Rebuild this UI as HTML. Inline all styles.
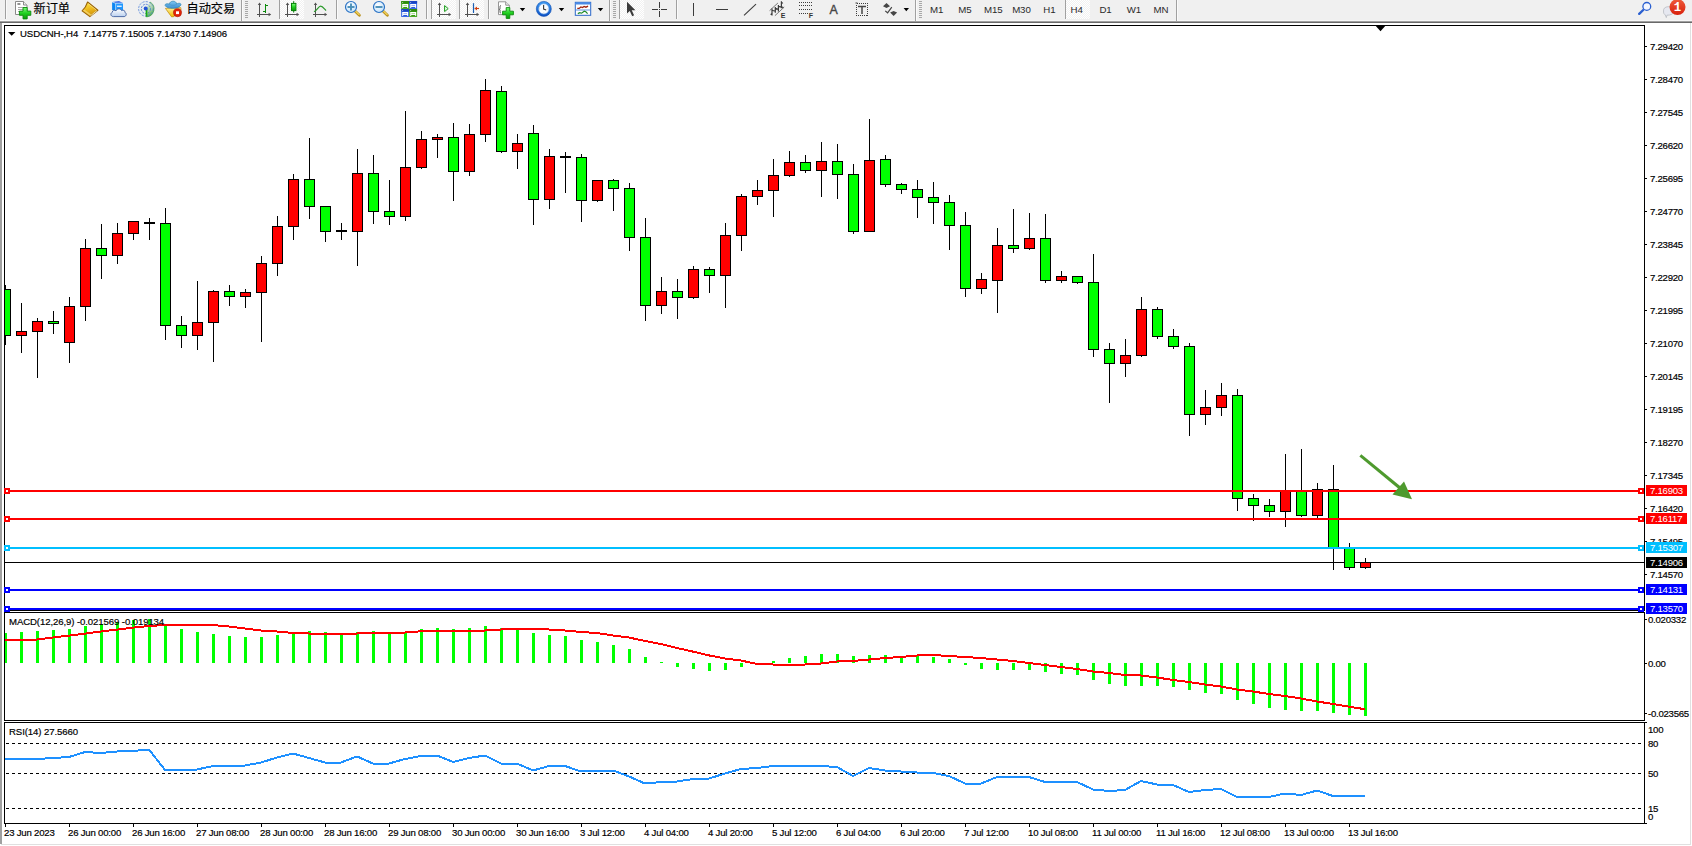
<!DOCTYPE html>
<html lang="zh"><head><meta charset="utf-8"><title>USDCNH-,H4</title>
<style>
html,body{margin:0;padding:0;background:#fff;}
body{width:1692px;height:846px;overflow:hidden;position:relative;font-family:"Liberation Sans", "Noto Sans CJK SC", sans-serif;}
svg{position:absolute;left:0;top:0;display:block}
text{font-family:"Liberation Sans", "Noto Sans CJK SC", sans-serif;}
.ax{font-size:9.6px;letter-spacing:-0.25px;fill:#000;stroke:#000;stroke-width:.18px}
.lb{font-size:9.6px;letter-spacing:-0.25px;fill:#fff}
.dt{font-size:9.6px;letter-spacing:-0.2px;fill:#000;stroke:#000;stroke-width:.18px}
.tt{font-size:9.6px;letter-spacing:-0.1px;fill:#000;stroke:#000;stroke-width:.18px}
.tf{font-size:9.7px;fill:#2a2a2a;letter-spacing:-0.1px}
.cn{font-size:12.2px;fill:#000;stroke:#000;stroke-width:.15px}
</style></head><body>
<svg width="1692" height="846" viewBox="0 0 1692 846">

<rect x="0" y="0" width="1692" height="846" fill="#fff"/>
<g shape-rendering="crispEdges">
<rect x="0" y="0" width="1692" height="21" fill="#f0f0f0"/>
<rect x="0" y="20" width="1692" height="1" fill="#f7f7f7"/>
<rect x="0" y="21" width="1692" height="1" fill="#a0a0a0"/>
<rect x="0" y="22" width="1692" height="1" fill="#696969"/>
<rect x="0" y="23" width="1692" height="2" fill="#fff"/>
<rect x="0" y="23" width="2" height="821" fill="#a0a0a0"/>
<rect x="1690" y="23" width="1" height="822" fill="#e0e0e0"/>
<rect x="1" y="844" width="1690" height="1" fill="#e0e0e0"/>
<g fill="#000">
<rect x="4" y="25" width="1641" height="1"/>
<rect x="4" y="25" width="1" height="799"/>
<rect x="1644" y="25" width="1" height="799"/>
<rect x="4" y="610" width="1641" height="1"/>
<rect x="4" y="612" width="1641" height="1"/>
<rect x="4" y="720" width="1641" height="1"/>
<rect x="4" y="722" width="1641" height="1"/>
<rect x="4" y="823" width="1643" height="1"/>
<rect x="1645" y="722" width="2" height="1"/>
</g>
<rect x="4" y="611" width="1641" height="1" fill="#fff"/><rect x="4" y="721" width="1641" height="1" fill="#fff"/>
<rect x="1645" y="46" width="2" height="1" fill="#000"/>
<rect x="1645" y="79" width="2" height="1" fill="#000"/>
<rect x="1645" y="112" width="2" height="1" fill="#000"/>
<rect x="1645" y="145" width="2" height="1" fill="#000"/>
<rect x="1645" y="178" width="2" height="1" fill="#000"/>
<rect x="1645" y="211" width="2" height="1" fill="#000"/>
<rect x="1645" y="244" width="2" height="1" fill="#000"/>
<rect x="1645" y="277" width="2" height="1" fill="#000"/>
<rect x="1645" y="310" width="2" height="1" fill="#000"/>
<rect x="1645" y="343" width="2" height="1" fill="#000"/>
<rect x="1645" y="376" width="2" height="1" fill="#000"/>
<rect x="1645" y="409" width="2" height="1" fill="#000"/>
<rect x="1645" y="442" width="2" height="1" fill="#000"/>
<rect x="1645" y="475" width="2" height="1" fill="#000"/>
<rect x="1645" y="508" width="2" height="1" fill="#000"/>
<rect x="1645" y="541" width="2" height="1" fill="#000"/>
<rect x="1645" y="574" width="2" height="1" fill="#000"/>
<rect x="1645" y="619" width="2" height="1" fill="#000"/>
<rect x="1645" y="663" width="2" height="1" fill="#000"/>
<rect x="1645" y="713" width="2" height="1" fill="#000"/>
<rect x="5" y="824" width="1" height="3" fill="#000"/>
<rect x="69" y="824" width="1" height="3" fill="#000"/>
<rect x="133" y="824" width="1" height="3" fill="#000"/>
<rect x="197" y="824" width="1" height="3" fill="#000"/>
<rect x="261" y="824" width="1" height="3" fill="#000"/>
<rect x="325" y="824" width="1" height="3" fill="#000"/>
<rect x="389" y="824" width="1" height="3" fill="#000"/>
<rect x="453" y="824" width="1" height="3" fill="#000"/>
<rect x="517" y="824" width="1" height="3" fill="#000"/>
<rect x="581" y="824" width="1" height="3" fill="#000"/>
<rect x="645" y="824" width="1" height="3" fill="#000"/>
<rect x="709" y="824" width="1" height="3" fill="#000"/>
<rect x="773" y="824" width="1" height="3" fill="#000"/>
<rect x="837" y="824" width="1" height="3" fill="#000"/>
<rect x="901" y="824" width="1" height="3" fill="#000"/>
<rect x="965" y="824" width="1" height="3" fill="#000"/>
<rect x="1029" y="824" width="1" height="3" fill="#000"/>
<rect x="1093" y="824" width="1" height="3" fill="#000"/>
<rect x="1157" y="824" width="1" height="3" fill="#000"/>
<rect x="1221" y="824" width="1" height="3" fill="#000"/>
<rect x="1285" y="824" width="1" height="3" fill="#000"/>
<rect x="1349" y="824" width="1" height="3" fill="#000"/>
<rect x="5" y="562" width="1639" height="1" fill="#000"/>
<rect x="5" y="285" width="1" height="60" fill="#000"/>
<rect x="5" y="289" width="6" height="47" fill="#000"/>
<rect x="5" y="290" width="5" height="45" fill="#00ff00"/>
<rect x="21" y="303" width="1" height="50" fill="#000"/>
<rect x="16" y="331" width="11" height="5" fill="#000"/>
<rect x="17" y="332" width="9" height="3" fill="#ff0000"/>
<rect x="37" y="318" width="1" height="60" fill="#000"/>
<rect x="32" y="321" width="11" height="11" fill="#000"/>
<rect x="33" y="322" width="9" height="9" fill="#ff0000"/>
<rect x="53" y="311" width="1" height="23" fill="#000"/>
<rect x="48" y="321" width="11" height="3" fill="#000"/>
<rect x="49" y="322" width="9" height="1" fill="#00ff00"/>
<rect x="69" y="297" width="1" height="66" fill="#000"/>
<rect x="64" y="306" width="11" height="37" fill="#000"/>
<rect x="65" y="307" width="9" height="35" fill="#ff0000"/>
<rect x="85" y="239" width="1" height="82" fill="#000"/>
<rect x="80" y="248" width="11" height="59" fill="#000"/>
<rect x="81" y="249" width="9" height="57" fill="#ff0000"/>
<rect x="101" y="224" width="1" height="55" fill="#000"/>
<rect x="96" y="248" width="11" height="8" fill="#000"/>
<rect x="97" y="249" width="9" height="6" fill="#00ff00"/>
<rect x="117" y="223" width="1" height="41" fill="#000"/>
<rect x="112" y="233" width="11" height="23" fill="#000"/>
<rect x="113" y="234" width="9" height="21" fill="#ff0000"/>
<rect x="133" y="221" width="1" height="19" fill="#000"/>
<rect x="128" y="221" width="11" height="13" fill="#000"/>
<rect x="129" y="222" width="9" height="11" fill="#ff0000"/>
<rect x="149" y="218" width="1" height="22" fill="#000"/>
<rect x="144" y="222" width="11" height="2" fill="#000"/>
<rect x="165" y="208" width="1" height="132" fill="#000"/>
<rect x="160" y="223" width="11" height="103" fill="#000"/>
<rect x="161" y="224" width="9" height="101" fill="#00ff00"/>
<rect x="181" y="316" width="1" height="32" fill="#000"/>
<rect x="176" y="325" width="11" height="11" fill="#000"/>
<rect x="177" y="326" width="9" height="9" fill="#00ff00"/>
<rect x="197" y="281" width="1" height="69" fill="#000"/>
<rect x="192" y="322" width="11" height="14" fill="#000"/>
<rect x="193" y="323" width="9" height="12" fill="#ff0000"/>
<rect x="213" y="290" width="1" height="72" fill="#000"/>
<rect x="208" y="291" width="11" height="32" fill="#000"/>
<rect x="209" y="292" width="9" height="30" fill="#ff0000"/>
<rect x="229" y="285" width="1" height="21" fill="#000"/>
<rect x="224" y="291" width="11" height="6" fill="#000"/>
<rect x="225" y="292" width="9" height="4" fill="#00ff00"/>
<rect x="245" y="289" width="1" height="19" fill="#000"/>
<rect x="240" y="292" width="11" height="5" fill="#000"/>
<rect x="241" y="293" width="9" height="3" fill="#ff0000"/>
<rect x="261" y="256" width="1" height="86" fill="#000"/>
<rect x="256" y="263" width="11" height="30" fill="#000"/>
<rect x="257" y="264" width="9" height="28" fill="#ff0000"/>
<rect x="277" y="216" width="1" height="60" fill="#000"/>
<rect x="272" y="226" width="11" height="38" fill="#000"/>
<rect x="273" y="227" width="9" height="36" fill="#ff0000"/>
<rect x="293" y="174" width="1" height="66" fill="#000"/>
<rect x="288" y="179" width="11" height="48" fill="#000"/>
<rect x="289" y="180" width="9" height="46" fill="#ff0000"/>
<rect x="309" y="138" width="1" height="81" fill="#000"/>
<rect x="304" y="179" width="11" height="28" fill="#000"/>
<rect x="305" y="180" width="9" height="26" fill="#00ff00"/>
<rect x="325" y="206" width="1" height="36" fill="#000"/>
<rect x="320" y="206" width="11" height="26" fill="#000"/>
<rect x="321" y="207" width="9" height="24" fill="#00ff00"/>
<rect x="341" y="223" width="1" height="17" fill="#000"/>
<rect x="336" y="230" width="11" height="2" fill="#000"/>
<rect x="357" y="149" width="1" height="117" fill="#000"/>
<rect x="352" y="173" width="11" height="59" fill="#000"/>
<rect x="353" y="174" width="9" height="57" fill="#ff0000"/>
<rect x="373" y="155" width="1" height="69" fill="#000"/>
<rect x="368" y="173" width="11" height="39" fill="#000"/>
<rect x="369" y="174" width="9" height="37" fill="#00ff00"/>
<rect x="389" y="180" width="1" height="45" fill="#000"/>
<rect x="384" y="211" width="11" height="6" fill="#000"/>
<rect x="385" y="212" width="9" height="4" fill="#00ff00"/>
<rect x="405" y="111" width="1" height="110" fill="#000"/>
<rect x="400" y="167" width="11" height="50" fill="#000"/>
<rect x="401" y="168" width="9" height="48" fill="#ff0000"/>
<rect x="421" y="131" width="1" height="38" fill="#000"/>
<rect x="416" y="139" width="11" height="29" fill="#000"/>
<rect x="417" y="140" width="9" height="27" fill="#ff0000"/>
<rect x="437" y="134" width="1" height="24" fill="#000"/>
<rect x="432" y="137" width="11" height="3" fill="#000"/>
<rect x="433" y="138" width="9" height="1" fill="#ff0000"/>
<rect x="453" y="123" width="1" height="78" fill="#000"/>
<rect x="448" y="137" width="11" height="35" fill="#000"/>
<rect x="449" y="138" width="9" height="33" fill="#00ff00"/>
<rect x="469" y="124" width="1" height="52" fill="#000"/>
<rect x="464" y="134" width="11" height="38" fill="#000"/>
<rect x="465" y="135" width="9" height="36" fill="#ff0000"/>
<rect x="485" y="79" width="1" height="63" fill="#000"/>
<rect x="480" y="90" width="11" height="45" fill="#000"/>
<rect x="481" y="91" width="9" height="43" fill="#ff0000"/>
<rect x="501" y="86" width="1" height="67" fill="#000"/>
<rect x="496" y="91" width="11" height="61" fill="#000"/>
<rect x="497" y="92" width="9" height="59" fill="#00ff00"/>
<rect x="517" y="134" width="1" height="35" fill="#000"/>
<rect x="512" y="143" width="11" height="9" fill="#000"/>
<rect x="513" y="144" width="9" height="7" fill="#ff0000"/>
<rect x="533" y="125" width="1" height="100" fill="#000"/>
<rect x="528" y="133" width="11" height="67" fill="#000"/>
<rect x="529" y="134" width="9" height="65" fill="#00ff00"/>
<rect x="549" y="149" width="1" height="60" fill="#000"/>
<rect x="544" y="156" width="11" height="44" fill="#000"/>
<rect x="545" y="157" width="9" height="42" fill="#ff0000"/>
<rect x="565" y="152" width="1" height="41" fill="#000"/>
<rect x="560" y="156" width="11" height="2" fill="#000"/>
<rect x="581" y="154" width="1" height="68" fill="#000"/>
<rect x="576" y="157" width="11" height="44" fill="#000"/>
<rect x="577" y="158" width="9" height="42" fill="#00ff00"/>
<rect x="597" y="180" width="1" height="22" fill="#000"/>
<rect x="592" y="180" width="11" height="21" fill="#000"/>
<rect x="593" y="181" width="9" height="19" fill="#ff0000"/>
<rect x="613" y="179" width="1" height="32" fill="#000"/>
<rect x="608" y="180" width="11" height="9" fill="#000"/>
<rect x="609" y="181" width="9" height="7" fill="#00ff00"/>
<rect x="629" y="183" width="1" height="68" fill="#000"/>
<rect x="624" y="188" width="11" height="50" fill="#000"/>
<rect x="625" y="189" width="9" height="48" fill="#00ff00"/>
<rect x="645" y="218" width="1" height="103" fill="#000"/>
<rect x="640" y="237" width="11" height="69" fill="#000"/>
<rect x="641" y="238" width="9" height="67" fill="#00ff00"/>
<rect x="661" y="277" width="1" height="37" fill="#000"/>
<rect x="656" y="291" width="11" height="15" fill="#000"/>
<rect x="657" y="292" width="9" height="13" fill="#ff0000"/>
<rect x="677" y="279" width="1" height="40" fill="#000"/>
<rect x="672" y="291" width="11" height="7" fill="#000"/>
<rect x="673" y="292" width="9" height="5" fill="#00ff00"/>
<rect x="693" y="266" width="1" height="33" fill="#000"/>
<rect x="688" y="269" width="11" height="29" fill="#000"/>
<rect x="689" y="270" width="9" height="27" fill="#ff0000"/>
<rect x="709" y="267" width="1" height="26" fill="#000"/>
<rect x="704" y="269" width="11" height="7" fill="#000"/>
<rect x="705" y="270" width="9" height="5" fill="#00ff00"/>
<rect x="725" y="223" width="1" height="85" fill="#000"/>
<rect x="720" y="235" width="11" height="41" fill="#000"/>
<rect x="721" y="236" width="9" height="39" fill="#ff0000"/>
<rect x="741" y="194" width="1" height="57" fill="#000"/>
<rect x="736" y="196" width="11" height="40" fill="#000"/>
<rect x="737" y="197" width="9" height="38" fill="#ff0000"/>
<rect x="757" y="180" width="1" height="25" fill="#000"/>
<rect x="752" y="190" width="11" height="7" fill="#000"/>
<rect x="753" y="191" width="9" height="5" fill="#ff0000"/>
<rect x="773" y="159" width="1" height="58" fill="#000"/>
<rect x="768" y="175" width="11" height="16" fill="#000"/>
<rect x="769" y="176" width="9" height="14" fill="#ff0000"/>
<rect x="789" y="151" width="1" height="26" fill="#000"/>
<rect x="784" y="162" width="11" height="14" fill="#000"/>
<rect x="785" y="163" width="9" height="12" fill="#ff0000"/>
<rect x="805" y="155" width="1" height="18" fill="#000"/>
<rect x="800" y="162" width="11" height="9" fill="#000"/>
<rect x="801" y="163" width="9" height="7" fill="#00ff00"/>
<rect x="821" y="142" width="1" height="55" fill="#000"/>
<rect x="816" y="161" width="11" height="10" fill="#000"/>
<rect x="817" y="162" width="9" height="8" fill="#ff0000"/>
<rect x="837" y="144" width="1" height="55" fill="#000"/>
<rect x="832" y="161" width="11" height="14" fill="#000"/>
<rect x="833" y="162" width="9" height="12" fill="#00ff00"/>
<rect x="853" y="164" width="1" height="70" fill="#000"/>
<rect x="848" y="174" width="11" height="58" fill="#000"/>
<rect x="849" y="175" width="9" height="56" fill="#00ff00"/>
<rect x="869" y="119" width="1" height="113" fill="#000"/>
<rect x="864" y="160" width="11" height="72" fill="#000"/>
<rect x="865" y="161" width="9" height="70" fill="#ff0000"/>
<rect x="885" y="155" width="1" height="32" fill="#000"/>
<rect x="880" y="159" width="11" height="26" fill="#000"/>
<rect x="881" y="160" width="9" height="24" fill="#00ff00"/>
<rect x="901" y="183" width="1" height="11" fill="#000"/>
<rect x="896" y="184" width="11" height="6" fill="#000"/>
<rect x="897" y="185" width="9" height="4" fill="#00ff00"/>
<rect x="917" y="180" width="1" height="38" fill="#000"/>
<rect x="912" y="189" width="11" height="9" fill="#000"/>
<rect x="913" y="190" width="9" height="7" fill="#00ff00"/>
<rect x="933" y="182" width="1" height="42" fill="#000"/>
<rect x="928" y="197" width="11" height="6" fill="#000"/>
<rect x="929" y="198" width="9" height="4" fill="#00ff00"/>
<rect x="949" y="195" width="1" height="55" fill="#000"/>
<rect x="944" y="202" width="11" height="24" fill="#000"/>
<rect x="945" y="203" width="9" height="22" fill="#00ff00"/>
<rect x="965" y="212" width="1" height="85" fill="#000"/>
<rect x="960" y="225" width="11" height="64" fill="#000"/>
<rect x="961" y="226" width="9" height="62" fill="#00ff00"/>
<rect x="981" y="273" width="1" height="21" fill="#000"/>
<rect x="976" y="279" width="11" height="10" fill="#000"/>
<rect x="977" y="280" width="9" height="8" fill="#ff0000"/>
<rect x="997" y="228" width="1" height="85" fill="#000"/>
<rect x="992" y="245" width="11" height="36" fill="#000"/>
<rect x="993" y="246" width="9" height="34" fill="#ff0000"/>
<rect x="1013" y="209" width="1" height="44" fill="#000"/>
<rect x="1008" y="245" width="11" height="4" fill="#000"/>
<rect x="1009" y="246" width="9" height="2" fill="#00ff00"/>
<rect x="1029" y="213" width="1" height="37" fill="#000"/>
<rect x="1024" y="238" width="11" height="11" fill="#000"/>
<rect x="1025" y="239" width="9" height="9" fill="#ff0000"/>
<rect x="1045" y="214" width="1" height="69" fill="#000"/>
<rect x="1040" y="238" width="11" height="43" fill="#000"/>
<rect x="1041" y="239" width="9" height="41" fill="#00ff00"/>
<rect x="1061" y="271" width="1" height="12" fill="#000"/>
<rect x="1056" y="276" width="11" height="5" fill="#000"/>
<rect x="1057" y="277" width="9" height="3" fill="#ff0000"/>
<rect x="1077" y="276" width="1" height="8" fill="#000"/>
<rect x="1072" y="276" width="11" height="7" fill="#000"/>
<rect x="1073" y="277" width="9" height="5" fill="#00ff00"/>
<rect x="1093" y="254" width="1" height="103" fill="#000"/>
<rect x="1088" y="282" width="11" height="68" fill="#000"/>
<rect x="1089" y="283" width="9" height="66" fill="#00ff00"/>
<rect x="1109" y="343" width="1" height="60" fill="#000"/>
<rect x="1104" y="349" width="11" height="15" fill="#000"/>
<rect x="1105" y="350" width="9" height="13" fill="#00ff00"/>
<rect x="1125" y="339" width="1" height="38" fill="#000"/>
<rect x="1120" y="355" width="11" height="9" fill="#000"/>
<rect x="1121" y="356" width="9" height="7" fill="#ff0000"/>
<rect x="1141" y="297" width="1" height="60" fill="#000"/>
<rect x="1136" y="309" width="11" height="47" fill="#000"/>
<rect x="1137" y="310" width="9" height="45" fill="#ff0000"/>
<rect x="1157" y="307" width="1" height="32" fill="#000"/>
<rect x="1152" y="309" width="11" height="28" fill="#000"/>
<rect x="1153" y="310" width="9" height="26" fill="#00ff00"/>
<rect x="1173" y="329" width="1" height="20" fill="#000"/>
<rect x="1168" y="336" width="11" height="11" fill="#000"/>
<rect x="1169" y="337" width="9" height="9" fill="#00ff00"/>
<rect x="1189" y="343" width="1" height="93" fill="#000"/>
<rect x="1184" y="346" width="11" height="69" fill="#000"/>
<rect x="1185" y="347" width="9" height="67" fill="#00ff00"/>
<rect x="1205" y="390" width="1" height="35" fill="#000"/>
<rect x="1200" y="407" width="11" height="8" fill="#000"/>
<rect x="1201" y="408" width="9" height="6" fill="#ff0000"/>
<rect x="1221" y="383" width="1" height="33" fill="#000"/>
<rect x="1216" y="395" width="11" height="13" fill="#000"/>
<rect x="1217" y="396" width="9" height="11" fill="#ff0000"/>
<rect x="1237" y="389" width="1" height="122" fill="#000"/>
<rect x="1232" y="395" width="11" height="104" fill="#000"/>
<rect x="1233" y="396" width="9" height="102" fill="#00ff00"/>
<rect x="1253" y="494" width="1" height="27" fill="#000"/>
<rect x="1248" y="498" width="11" height="8" fill="#000"/>
<rect x="1249" y="499" width="9" height="6" fill="#00ff00"/>
<rect x="1269" y="499" width="1" height="18" fill="#000"/>
<rect x="1264" y="505" width="11" height="7" fill="#000"/>
<rect x="1265" y="506" width="9" height="5" fill="#00ff00"/>
<rect x="1285" y="454" width="1" height="73" fill="#000"/>
<rect x="1280" y="491" width="11" height="21" fill="#000"/>
<rect x="1281" y="492" width="9" height="19" fill="#ff0000"/>
<rect x="1301" y="449" width="1" height="68" fill="#000"/>
<rect x="1296" y="491" width="11" height="25" fill="#000"/>
<rect x="1297" y="492" width="9" height="23" fill="#00ff00"/>
<rect x="1317" y="483" width="1" height="35" fill="#000"/>
<rect x="1312" y="489" width="11" height="27" fill="#000"/>
<rect x="1313" y="490" width="9" height="25" fill="#ff0000"/>
<rect x="1333" y="465" width="1" height="105" fill="#000"/>
<rect x="1328" y="489" width="11" height="59" fill="#000"/>
<rect x="1329" y="490" width="9" height="57" fill="#00ff00"/>
<rect x="1349" y="543" width="1" height="27" fill="#000"/>
<rect x="1344" y="547" width="11" height="21" fill="#000"/>
<rect x="1345" y="548" width="9" height="19" fill="#00ff00"/>
<rect x="1365" y="558" width="1" height="11" fill="#000"/>
<rect x="1360" y="562" width="11" height="6" fill="#000"/>
<rect x="1361" y="563" width="9" height="4" fill="#ff0000"/>
<rect x="5" y="633" width="2" height="30" fill="#00ff00"/>
<rect x="20" y="632" width="3" height="31" fill="#00ff00"/>
<rect x="36" y="631" width="3" height="32" fill="#00ff00"/>
<rect x="52" y="630" width="3" height="33" fill="#00ff00"/>
<rect x="68" y="629" width="3" height="34" fill="#00ff00"/>
<rect x="84" y="626" width="3" height="37" fill="#00ff00"/>
<rect x="100" y="624" width="3" height="39" fill="#00ff00"/>
<rect x="116" y="622" width="3" height="41" fill="#00ff00"/>
<rect x="132" y="620" width="3" height="43" fill="#00ff00"/>
<rect x="148" y="619" width="3" height="44" fill="#00ff00"/>
<rect x="164" y="626" width="3" height="37" fill="#00ff00"/>
<rect x="180" y="629" width="3" height="34" fill="#00ff00"/>
<rect x="196" y="632" width="3" height="31" fill="#00ff00"/>
<rect x="212" y="634" width="3" height="29" fill="#00ff00"/>
<rect x="228" y="636" width="3" height="27" fill="#00ff00"/>
<rect x="244" y="637" width="3" height="26" fill="#00ff00"/>
<rect x="260" y="637" width="3" height="26" fill="#00ff00"/>
<rect x="276" y="635" width="3" height="28" fill="#00ff00"/>
<rect x="292" y="633" width="3" height="30" fill="#00ff00"/>
<rect x="308" y="631" width="3" height="32" fill="#00ff00"/>
<rect x="324" y="632" width="3" height="31" fill="#00ff00"/>
<rect x="340" y="633" width="3" height="30" fill="#00ff00"/>
<rect x="356" y="632" width="3" height="31" fill="#00ff00"/>
<rect x="372" y="631" width="3" height="32" fill="#00ff00"/>
<rect x="388" y="632" width="3" height="31" fill="#00ff00"/>
<rect x="404" y="632" width="3" height="31" fill="#00ff00"/>
<rect x="420" y="629" width="3" height="34" fill="#00ff00"/>
<rect x="436" y="628" width="3" height="35" fill="#00ff00"/>
<rect x="452" y="629" width="3" height="34" fill="#00ff00"/>
<rect x="468" y="628" width="3" height="35" fill="#00ff00"/>
<rect x="484" y="626" width="3" height="37" fill="#00ff00"/>
<rect x="500" y="628" width="3" height="35" fill="#00ff00"/>
<rect x="516" y="630" width="3" height="33" fill="#00ff00"/>
<rect x="532" y="633" width="3" height="30" fill="#00ff00"/>
<rect x="548" y="635" width="3" height="28" fill="#00ff00"/>
<rect x="564" y="636" width="3" height="27" fill="#00ff00"/>
<rect x="580" y="640" width="3" height="23" fill="#00ff00"/>
<rect x="596" y="642" width="3" height="21" fill="#00ff00"/>
<rect x="612" y="645" width="3" height="18" fill="#00ff00"/>
<rect x="628" y="649" width="3" height="14" fill="#00ff00"/>
<rect x="644" y="657" width="3" height="6" fill="#00ff00"/>
<rect x="660" y="662" width="3" height="1" fill="#00ff00"/>
<rect x="676" y="663" width="3" height="4" fill="#00ff00"/>
<rect x="692" y="663" width="3" height="6" fill="#00ff00"/>
<rect x="708" y="663" width="3" height="8" fill="#00ff00"/>
<rect x="724" y="663" width="3" height="7" fill="#00ff00"/>
<rect x="740" y="663" width="3" height="4" fill="#00ff00"/>
<rect x="756" y="663" width="3" height="1" fill="#00ff00"/>
<rect x="772" y="661" width="3" height="2" fill="#00ff00"/>
<rect x="788" y="658" width="3" height="5" fill="#00ff00"/>
<rect x="804" y="656" width="3" height="7" fill="#00ff00"/>
<rect x="820" y="654" width="3" height="9" fill="#00ff00"/>
<rect x="836" y="654" width="3" height="9" fill="#00ff00"/>
<rect x="852" y="656" width="3" height="7" fill="#00ff00"/>
<rect x="868" y="655" width="3" height="8" fill="#00ff00"/>
<rect x="884" y="655" width="3" height="8" fill="#00ff00"/>
<rect x="900" y="656" width="3" height="7" fill="#00ff00"/>
<rect x="916" y="656" width="3" height="7" fill="#00ff00"/>
<rect x="932" y="657" width="3" height="6" fill="#00ff00"/>
<rect x="948" y="659" width="3" height="4" fill="#00ff00"/>
<rect x="964" y="663" width="3" height="2" fill="#00ff00"/>
<rect x="980" y="663" width="3" height="6" fill="#00ff00"/>
<rect x="996" y="663" width="3" height="7" fill="#00ff00"/>
<rect x="1012" y="663" width="3" height="7" fill="#00ff00"/>
<rect x="1028" y="663" width="3" height="7" fill="#00ff00"/>
<rect x="1044" y="663" width="3" height="9" fill="#00ff00"/>
<rect x="1060" y="663" width="3" height="11" fill="#00ff00"/>
<rect x="1076" y="663" width="3" height="12" fill="#00ff00"/>
<rect x="1092" y="663" width="3" height="17" fill="#00ff00"/>
<rect x="1108" y="663" width="3" height="21" fill="#00ff00"/>
<rect x="1124" y="663" width="3" height="23" fill="#00ff00"/>
<rect x="1140" y="663" width="3" height="23" fill="#00ff00"/>
<rect x="1156" y="663" width="3" height="23" fill="#00ff00"/>
<rect x="1172" y="663" width="3" height="24" fill="#00ff00"/>
<rect x="1188" y="663" width="3" height="27" fill="#00ff00"/>
<rect x="1204" y="663" width="3" height="30" fill="#00ff00"/>
<rect x="1220" y="663" width="3" height="31" fill="#00ff00"/>
<rect x="1236" y="663" width="3" height="37" fill="#00ff00"/>
<rect x="1252" y="663" width="3" height="41" fill="#00ff00"/>
<rect x="1268" y="663" width="3" height="45" fill="#00ff00"/>
<rect x="1284" y="663" width="3" height="47" fill="#00ff00"/>
<rect x="1300" y="663" width="3" height="48" fill="#00ff00"/>
<rect x="1316" y="663" width="3" height="48" fill="#00ff00"/>
<rect x="1332" y="663" width="3" height="50" fill="#00ff00"/>
<rect x="1348" y="663" width="3" height="52" fill="#00ff00"/>
<rect x="1364" y="663" width="3" height="53" fill="#00ff00"/>
</g>
<polyline points="5,640.5 21,640 37,639.5 53,637.5 69,635.6 85,633.6 101,631.5 117,629.6 133,627.6 149,626 165,625 181,625 197,625 213,625 229,626.5 245,628.5 261,630.5 277,631.5 293,633 309,633.5 325,633.5 341,633.5 357,633.5 373,633 389,632.5 405,632.5 421,631.25 437,631 453,631 469,631 485,630.5 501,629.5 517,629 533,629 549,629.5 565,630.5 581,632 597,633 613,635.5 629,637.5 645,641 661,644 677,648 693,651.6 709,655.4 725,658.5 741,660.5 757,664 773,664.5 789,664.5 805,664.5 821,663.5 837,661.5 853,661 869,659.5 885,658 901,657 917,655.5 933,655 949,656 965,657 981,658 997,659.5 1013,661 1029,663 1045,665 1061,667 1077,669 1093,671.5 1109,673 1125,675 1141,675.5 1157,677.5 1173,680 1189,682 1205,684.5 1221,686.5 1237,689.5 1253,691.5 1269,694 1285,696 1301,698.5 1317,701.5 1333,704 1349,706.7 1365,709.2" fill="none" stroke="#ff0000" stroke-width="2" shape-rendering="crispEdges"/>
<g shape-rendering="crispEdges">
<line x1="6" y1="743.5" x2="1644" y2="743.5" stroke="#000" stroke-width="1" stroke-dasharray="3 3"/>
<line x1="6" y1="773.5" x2="1644" y2="773.5" stroke="#000" stroke-width="1" stroke-dasharray="3 3"/>
<line x1="6" y1="808.5" x2="1644" y2="808.5" stroke="#000" stroke-width="1" stroke-dasharray="3 3"/>
</g>
<polyline points="5,759 21,759 37,759 53,758 69,757 85,752 101,753 117,751.5 133,751 149,749.5 165,770 181,770 197,769.5 213,766 229,766 245,765.5 261,762.5 277,757.5 293,753.5 309,758 325,762.5 341,762.5 357,756.5 373,763.5 389,763.5 405,759 421,756 437,755.5 453,762 469,758 485,755.5 501,763.5 517,763.5 533,770.5 549,766 565,766 581,771.5 597,770.5 613,770.5 629,776.5 645,783.5 661,782 677,781.5 693,779 709,778.5 725,773.5 741,769 757,768 773,766 789,766 805,766 821,766 837,767 853,776 869,768 885,770.5 901,771.5 917,772.5 933,773 949,776 965,783.5 981,783.5 997,777 1013,777 1029,777 1045,782 1061,782 1077,782 1093,789.5 1109,791 1125,790 1141,781 1157,784.5 1173,785 1189,792 1205,790 1221,789 1237,797 1253,797 1269,797 1285,793.5 1301,795 1317,790.5 1333,796 1349,796 1365,796" fill="none" stroke="#1e90ff" stroke-width="2" shape-rendering="crispEdges"/>
<g shape-rendering="crispEdges">
<rect x="5" y="490" width="1639" height="2" fill="#ff0000"/>
<rect x="4" y="488" width="6" height="6" fill="#ff0000"/><rect x="6" y="490" width="2" height="2" fill="#fff"/>
<rect x="1638" y="488" width="6" height="6" fill="#ff0000"/><rect x="1640" y="490" width="2" height="2" fill="#fff"/>
<rect x="5" y="518" width="1639" height="2" fill="#ff0000"/>
<rect x="4" y="516" width="6" height="6" fill="#ff0000"/><rect x="6" y="518" width="2" height="2" fill="#fff"/>
<rect x="1638" y="516" width="6" height="6" fill="#ff0000"/><rect x="1640" y="518" width="2" height="2" fill="#fff"/>
<rect x="5" y="547" width="1639" height="2" fill="#00bfff"/>
<rect x="4" y="545" width="6" height="6" fill="#00bfff"/><rect x="6" y="547" width="2" height="2" fill="#fff"/>
<rect x="1638" y="545" width="6" height="6" fill="#00bfff"/><rect x="1640" y="547" width="2" height="2" fill="#fff"/>
<rect x="5" y="589" width="1639" height="2" fill="#0000ff"/>
<rect x="4" y="587" width="6" height="6" fill="#0000ff"/><rect x="6" y="589" width="2" height="2" fill="#fff"/>
<rect x="1638" y="587" width="6" height="6" fill="#0000ff"/><rect x="1640" y="589" width="2" height="2" fill="#fff"/>
<rect x="5" y="608" width="1639" height="2" fill="#0000ff"/>
<rect x="4" y="606" width="6" height="6" fill="#0000ff"/><rect x="6" y="608" width="2" height="2" fill="#fff"/>
<rect x="1638" y="606" width="6" height="6" fill="#0000ff"/><rect x="1640" y="608" width="2" height="2" fill="#fff"/>
</g>
<text class="ax" x="1650" y="49.5">7.29420</text>
<text class="ax" x="1650" y="82.5">7.28470</text>
<text class="ax" x="1650" y="115.5">7.27545</text>
<text class="ax" x="1650" y="148.5">7.26620</text>
<text class="ax" x="1650" y="181.5">7.25695</text>
<text class="ax" x="1650" y="214.5">7.24770</text>
<text class="ax" x="1650" y="247.5">7.23845</text>
<text class="ax" x="1650" y="280.5">7.22920</text>
<text class="ax" x="1650" y="313.5">7.21995</text>
<text class="ax" x="1650" y="346.5">7.21070</text>
<text class="ax" x="1650" y="379.5">7.20145</text>
<text class="ax" x="1650" y="412.5">7.19195</text>
<text class="ax" x="1650" y="445.5">7.18270</text>
<text class="ax" x="1650" y="478.5">7.17345</text>
<text class="ax" x="1650" y="511.5">7.16420</text>
<text class="ax" x="1650" y="544.5">7.15495</text>
<text class="ax" x="1650" y="577.5">7.14570</text>
<rect x="1646" y="485" width="41" height="11" fill="#ff0000" shape-rendering="crispEdges"/>
<text class="lb" x="1650" y="494">7.16903</text>
<rect x="1646" y="513" width="41" height="11" fill="#ff0000" shape-rendering="crispEdges"/>
<text class="lb" x="1650" y="522">7.16117</text>
<rect x="1646" y="542" width="41" height="11" fill="#00bfff" shape-rendering="crispEdges"/>
<text class="lb" x="1650" y="551">7.15307</text>
<rect x="1646" y="557" width="41" height="11" fill="#000000" shape-rendering="crispEdges"/>
<text class="lb" x="1650" y="566">7.14906</text>
<rect x="1646" y="584" width="41" height="11" fill="#0000ff" shape-rendering="crispEdges"/>
<text class="lb" x="1650" y="593">7.14131</text>
<rect x="1646" y="603" width="41" height="11" fill="#0000ff" shape-rendering="crispEdges"/>
<text class="lb" x="1650" y="612">7.13570</text>
<text class="ax" x="1648" y="623">0.020332</text>
<text class="ax" x="1648" y="667">0.00</text>
<text class="ax" x="1648" y="717">-0.023565</text>
<text class="ax" x="1648" y="733">100</text>
<text class="ax" x="1648" y="747">80</text>
<text class="ax" x="1648" y="777">50</text>
<text class="ax" x="1648" y="812">15</text>
<text class="ax" x="1648" y="820">0</text>
<text class="dt" x="4" y="836">23 Jun 2023</text>
<text class="dt" x="68" y="836">26 Jun 00:00</text>
<text class="dt" x="132" y="836">26 Jun 16:00</text>
<text class="dt" x="196" y="836">27 Jun 08:00</text>
<text class="dt" x="260" y="836">28 Jun 00:00</text>
<text class="dt" x="324" y="836">28 Jun 16:00</text>
<text class="dt" x="388" y="836">29 Jun 08:00</text>
<text class="dt" x="452" y="836">30 Jun 00:00</text>
<text class="dt" x="516" y="836">30 Jun 16:00</text>
<text class="dt" x="580" y="836">3 Jul 12:00</text>
<text class="dt" x="644" y="836">4 Jul 04:00</text>
<text class="dt" x="708" y="836">4 Jul 20:00</text>
<text class="dt" x="772" y="836">5 Jul 12:00</text>
<text class="dt" x="836" y="836">6 Jul 04:00</text>
<text class="dt" x="900" y="836">6 Jul 20:00</text>
<text class="dt" x="964" y="836">7 Jul 12:00</text>
<text class="dt" x="1028" y="836">10 Jul 08:00</text>
<text class="dt" x="1092" y="836">11 Jul 00:00</text>
<text class="dt" x="1156" y="836">11 Jul 16:00</text>
<text class="dt" x="1220" y="836">12 Jul 08:00</text>
<text class="dt" x="1284" y="836">13 Jul 00:00</text>
<text class="dt" x="1348" y="836">13 Jul 16:00</text>
<path d="M8 32h7.4l-3.7 3.7z" fill="#000"/>
<text class="tt" x="20" y="37" xml:space="preserve">USDCNH-,H4  7.14775 7.15005 7.14730 7.14906</text>
<text class="tt" x="9" y="625">MACD(12,26,9) -0.021569 -0.019134</text>
<text class="tt" x="9" y="735">RSI(14) 27.5660</text>
<path d="M1375.8 26h9.4l-4.7 5.2z" fill="#000"/>
<g fill="#4e9a2e" stroke="none"><path d="M1359.4 456.6 L1361.3 454.2 L1401 486.8 L1399 489.2 Z"/><path d="M1412 499.3 L1404 481.5 L1392.5 494.5 Z"/></g>
<defs>
<linearGradient id="gGreen" x1="0" y1="0" x2="0" y2="1"><stop offset="0" stop-color="#7dff7d"/><stop offset="0.5" stop-color="#1fd01f"/><stop offset="1" stop-color="#0a9a0a"/></linearGradient>
<linearGradient id="gGold" x1="0.3" y1="0" x2="0.6" y2="1"><stop offset="0" stop-color="#ffe545"/><stop offset="0.55" stop-color="#eab41a"/><stop offset="1" stop-color="#c88a0a"/></linearGradient>
<linearGradient id="gBlue" x1="0" y1="0" x2="0" y2="1"><stop offset="0" stop-color="#59b4ff"/><stop offset="1" stop-color="#1667d9"/></linearGradient>
<linearGradient id="gCloud" x1="0" y1="0" x2="0" y2="1"><stop offset="0" stop-color="#ffffff"/><stop offset="1" stop-color="#b9cfee"/></linearGradient>
<linearGradient id="gRed" x1="0" y1="0" x2="0" y2="1"><stop offset="0" stop-color="#ee5a3a"/><stop offset="1" stop-color="#d8200c"/></linearGradient>
<linearGradient id="gHat" x1="0" y1="0" x2="0" y2="1"><stop offset="0" stop-color="#7cc4f2"/><stop offset="1" stop-color="#3f8fd0"/></linearGradient>
<linearGradient id="gYel" x1="0" y1="0" x2="0" y2="1"><stop offset="0" stop-color="#fff39a"/><stop offset="1" stop-color="#f0b800"/></linearGradient>
<linearGradient id="gSweep" x1="0.2" y1="0" x2="0.6" y2="1"><stop offset="0" stop-color="#dfeedd"/><stop offset="0.6" stop-color="#9fd09f"/><stop offset="1" stop-color="#2fa43a"/></linearGradient>
<linearGradient id="gClock" x1="0" y1="0" x2="0" y2="1"><stop offset="0" stop-color="#3f9cf2"/><stop offset="1" stop-color="#0b4fc4"/></linearGradient>
<radialGradient id="gLens" cx="0.4" cy="0.35" r="0.7"><stop offset="0" stop-color="#ffffff"/><stop offset="1" stop-color="#bfe0fb"/></radialGradient>
<pattern id="pSel" width="2" height="2" patternUnits="userSpaceOnUse"><rect width="2" height="2" fill="#f1f1f1"/><rect width="1" height="1" fill="#ffffff"/><rect x="1" y="1" width="1" height="1" fill="#ffffff"/></pattern>
</defs>
<rect x="5" y="0" width="1" height="19" fill="#a0a0a0" shape-rendering="crispEdges"/><rect x="6" y="0" width="1" height="19" fill="#fafafa" shape-rendering="crispEdges"/>
<g><path d="M15.5 1.5h8l3.5 3.5v9.5h-11.5z" fill="#fff" stroke="#8a8a8a" stroke-width="1"/><path d="M23.5 1.5v3.5h3.5" fill="#eee" stroke="#8a8a8a" stroke-width="1"/><rect x="17.4" y="3.2" width="3" height="1.6" fill="#777"/><path d="M17.5 7.5h5.5M17.5 9.5h5M17.5 11.5h2.5" stroke="#a8a8a8" stroke-width="1" shape-rendering="crispEdges"/><path d="M23 7.5h4.2v3.6h3.6v4.2h-3.6v3.6h-4.2v-3.6h-3.6v-4.2h3.6z" fill="url(#gGreen)" stroke="#0a8a0a" stroke-width="0.9"/></g>
<text class="cn" x="33.5" y="12.6">新订单</text>
<g><path d="M87.6 2 L97.9 10.3 L89.9 16.6 L82.1 10.9 Q85.8 7.6 87.6 2Z" fill="url(#gGold)" stroke="#9a6408" stroke-width="1.1" stroke-linejoin="round"/><path d="M83 10.6 L90 15.7 L91.2 14.6 L84.3 9.4Z" fill="#f6d56a" opacity="0.85"/><path d="M97 10.6 L90.6 15.7" stroke="#f3e6b0" stroke-width="0.9"/><path d="M88.2 3.6 L96 9.8" stroke="#fff6b8" stroke-width="0.8" opacity="0.7"/></g>
<g><path d="M112.1 2 L119 1.1 L123 3.1 L115.7 3.3Z" fill="#3d72ea"/><path d="M112.1 2 L115.7 3.3 L115.7 11 L112.1 9.9Z" fill="#0d86f2"/><rect x="115.7" y="3.2" width="7.3" height="7.6" fill="#2098ff"/><path d="M115.7 3.3v7.6M112.1 2L115.7 3.3L123 3.1" stroke="#d8ecff" stroke-width="0.6" fill="none"/><rect x="117" y="5.6" width="4.7" height="1.3" fill="#eef6ff"/><path d="M113.5 16.6 C110.6 16.6 110 13.3 112.3 12.3 C112.1 10.3 114.8 9.5 116 10.8 C116.7 8.5 120.7 8.2 121.6 10.6 C123.1 9.5 125.5 10.6 124.9 12.4 C127 13 126.5 16.6 124 16.6 Z" fill="url(#gCloud)" stroke="#3f5f9f" stroke-width="0.9"/></g>
<g fill="none"><circle cx="145.9" cy="8.9" r="8" fill="#e6ecf0" opacity="0.9"/><path d="M145.9 8.9 L150 2 A8 8 0 0 1 146.4 16.9 Z" fill="url(#gSweep)" stroke="none"/><circle cx="145.9" cy="8.9" r="7.3" stroke="#5580d8" stroke-width="1" stroke-dasharray="2.2 1.2" opacity="0.75"/><circle cx="145.9" cy="8.9" r="4.6" stroke="#4a74d4" stroke-width="1" stroke-dasharray="2 1" opacity="0.8"/><path d="M150 2 A8 8 0 0 1 146.4 16.9" stroke="#3d9a4a" stroke-width="0.9" opacity="0.8"/><path d="M146.5 9v7.7" stroke="#18a818" stroke-width="1.7"/><circle cx="145.7" cy="8.6" r="2" fill="#2354d4" stroke="none"/></g>
<g><path d="M165.4 8.4 L180.8 7.6 L181 9.6 L174 16.6 L171.6 16.9 Z" fill="url(#gYel)" stroke="#c08a08" stroke-width="0.7" stroke-linejoin="round"/><path d="M165.2 5.6 C164.6 3.6 167.6 3.4 169.4 4.2 C169.6 0.2 176.4 0.2 176.6 4 C178.4 2.8 181.6 3 180.8 5.2 C179.6 7.6 175.4 8.3 172.8 8.3 C170 8.3 166.2 7.8 165.2 5.6Z" fill="url(#gHat)" stroke="#2a84b4" stroke-width="0.7"/><path d="M169.6 4.4 C171.4 5.6 174.6 5.6 176.5 4.3" fill="none" stroke="#2a84b4" stroke-width="0.5" opacity="0.7"/><circle cx="177.5" cy="12.7" r="4" fill="#e32608" stroke="#b31404" stroke-width="0.7"/><rect x="176" y="11.3" width="3" height="2.8" fill="#fff"/></g>
<text class="cn" x="186.5" y="12.6">自动交易</text>
<rect x="241" y="0" width="1" height="21" fill="#a0a0a0" shape-rendering="crispEdges"/><rect x="242" y="0" width="1" height="21" fill="#fafafa" shape-rendering="crispEdges"/>
<rect x="245" y="1" width="3" height="1" fill="#a8a8a8" shape-rendering="crispEdges"/>
<rect x="245" y="3" width="3" height="1" fill="#a8a8a8" shape-rendering="crispEdges"/>
<rect x="245" y="5" width="3" height="1" fill="#a8a8a8" shape-rendering="crispEdges"/>
<rect x="245" y="7" width="3" height="1" fill="#a8a8a8" shape-rendering="crispEdges"/>
<rect x="245" y="9" width="3" height="1" fill="#a8a8a8" shape-rendering="crispEdges"/>
<rect x="245" y="11" width="3" height="1" fill="#a8a8a8" shape-rendering="crispEdges"/>
<rect x="245" y="13" width="3" height="1" fill="#a8a8a8" shape-rendering="crispEdges"/>
<rect x="245" y="15" width="3" height="1" fill="#a8a8a8" shape-rendering="crispEdges"/>
<rect x="245" y="17" width="3" height="1" fill="#a8a8a8" shape-rendering="crispEdges"/>
<g stroke="#505050" stroke-width="1" fill="#505050"><path d="M259.5 4v12.5M257 14.5h12.5" fill="none" shape-rendering="crispEdges"/><path d="M259.5 2.4l-1.7 2.6h3.4z M271.2 14.5l-2.6 -1.7v3.4z" stroke="none"/></g>
<path d="M265.5 4v9M266 5.5h2M263 11.5h2" stroke="#0a8a0a" stroke-width="1" fill="none" shape-rendering="crispEdges"/>
<rect x="280" y="0" width="24" height="19" fill="url(#pSel)" shape-rendering="crispEdges"/>
<rect x="279" y="0" width="1" height="19" fill="#a0a0a0" shape-rendering="crispEdges"/>
<g stroke="#505050" stroke-width="1" fill="#505050"><path d="M287.5 4v12.5M285 14.5h12.5" fill="none" shape-rendering="crispEdges"/><path d="M287.5 2.4l-1.7 2.6h3.4z M299.2 14.5l-2.6 -1.7v3.4z" stroke="none"/></g>
<path d="M293.7 1.2v11.4" stroke="#0a7a0a" stroke-width="1"/><rect x="291.5" y="3.4" width="4.4" height="7.2" fill="url(#gGreen)" stroke="#068206" stroke-width="1"/>
<g stroke="#505050" stroke-width="1" fill="#505050"><path d="M315.5 4v12.5M313 14.5h12.5" fill="none" shape-rendering="crispEdges"/><path d="M315.5 2.4l-1.7 2.6h3.4z M327.2 14.5l-2.6 -1.7v3.4z" stroke="none"/></g>
<path d="M314 11.8 C317 10.5 318.5 6.2 320.6 6.2 C322.6 6.2 324 8.5 326 10.6" stroke="#2a9a2a" stroke-width="1.2" fill="none"/>
<rect x="336" y="0" width="1" height="19" fill="#a0a0a0" shape-rendering="crispEdges"/><rect x="337" y="0" width="1" height="19" fill="#fafafa" shape-rendering="crispEdges"/>
<g><path d="M355.2 11.2 L359.4 15.3" stroke="#b8901c" stroke-width="2.8" stroke-linecap="round"/><path d="M355.4 11 L359.2 14.7" stroke="#f2d25a" stroke-width="1.2" stroke-linecap="round"/><circle cx="351" cy="7" r="5.5" fill="url(#gLens)" stroke="#2a72c4" stroke-width="1.2"/><path d="M347.5 7h7" stroke="#4a8fb8" stroke-width="1.9"/><path d="M351 3.5v7" stroke="#4a8fb8" stroke-width="1.9"/></g>
<g><path d="M383.2 11.2 L387.4 15.3" stroke="#b8901c" stroke-width="2.8" stroke-linecap="round"/><path d="M383.4 11 L387.2 14.7" stroke="#f2d25a" stroke-width="1.2" stroke-linecap="round"/><circle cx="379" cy="7" r="5.5" fill="url(#gLens)" stroke="#2a72c4" stroke-width="1.2"/><path d="M375.5 7h7" stroke="#4a8fb8" stroke-width="1.9"/></g>
<rect x="401.2" y="1.1" width="7.9" height="7.8" fill="#3aa012"/><rect x="401.2" y="1.1" width="7.9" height="2.2" fill="#2d8a0c"/><rect x="402.2" y="2.0" width="0.9" height="0.9" fill="#dfe8f8" opacity="0.8"/><path d="M402.2 4.1h6v4h-1v-1h-4v1h-1z" fill="#fff"/><rect x="403.4" y="5.300000000000001" width="3.6" height="0.8" fill="#3aa012" opacity="0.6"/>
<rect x="409.2" y="1.1" width="7.9" height="7.8" fill="#2a5ce0"/><rect x="409.2" y="1.1" width="7.9" height="2.2" fill="#1a44c0"/><rect x="410.2" y="2.0" width="0.9" height="0.9" fill="#dfe8f8" opacity="0.8"/><path d="M410.2 4.1h6v4h-1v-1h-4v1h-1z" fill="#fff"/><rect x="411.4" y="5.300000000000001" width="3.6" height="0.8" fill="#2a5ce0" opacity="0.6"/>
<rect x="401.2" y="9.1" width="7.9" height="7.8" fill="#2a5ce0"/><rect x="401.2" y="9.1" width="7.9" height="2.2" fill="#1a44c0"/><rect x="402.2" y="10.0" width="0.9" height="0.9" fill="#dfe8f8" opacity="0.8"/><path d="M402.2 12.1h6v4h-1v-1h-4v1h-1z" fill="#fff"/><rect x="403.4" y="13.3" width="3.6" height="0.8" fill="#2a5ce0" opacity="0.6"/>
<rect x="409.2" y="9.1" width="7.9" height="7.8" fill="#3aa012"/><rect x="409.2" y="9.1" width="7.9" height="2.2" fill="#2d8a0c"/><rect x="410.2" y="10.0" width="0.9" height="0.9" fill="#dfe8f8" opacity="0.8"/><path d="M410.2 12.1h6v4h-1v-1h-4v1h-1z" fill="#fff"/><rect x="411.4" y="13.3" width="3.6" height="0.8" fill="#3aa012" opacity="0.6"/>
<rect x="426" y="0" width="1" height="19" fill="#a0a0a0" shape-rendering="crispEdges"/><rect x="427" y="0" width="1" height="19" fill="#fafafa" shape-rendering="crispEdges"/>
<rect x="432" y="0" width="24" height="19" fill="url(#pSel)" shape-rendering="crispEdges"/>
<rect x="431" y="0" width="1" height="19" fill="#a0a0a0" shape-rendering="crispEdges"/>
<g stroke="#505050" stroke-width="1" fill="#505050"><path d="M439.5 4v12.5M437 14.5h12.5" fill="none" shape-rendering="crispEdges"/><path d="M439.5 2.4l-1.7 2.6h3.4z M451.2 14.5l-2.6 -1.7v3.4z" stroke="none"/></g>
<path d="M444.6 5.6v6l3.6 -3z" fill="#eaffea" stroke="#1a9a1a" stroke-width="1"/>
<rect x="460" y="0" width="24" height="19" fill="url(#pSel)" shape-rendering="crispEdges"/>
<rect x="459" y="0" width="1" height="19" fill="#a0a0a0" shape-rendering="crispEdges"/>
<g stroke="#505050" stroke-width="1" fill="#505050"><path d="M467.5 4v12.5M465 14.5h12.5" fill="none" shape-rendering="crispEdges"/><path d="M467.5 2.4l-1.7 2.6h3.4z M479.2 14.5l-2.6 -1.7v3.4z" stroke="none"/></g>
<path d="M473.5 3.2v9.8" stroke="#1a5fb4" stroke-width="1.2"/><path d="M474.8 8.5h4.2" stroke="#d04010" stroke-width="1.1"/><path d="M474.4 8.5l2.6 -2v4z" fill="#d04010"/>
<rect x="488" y="0" width="1" height="19" fill="#a0a0a0" shape-rendering="crispEdges"/><rect x="489" y="0" width="1" height="19" fill="#fafafa" shape-rendering="crispEdges"/>
<g><path d="M498.5 1.8h7.2l3.6 3.4v9.4h-10.8z" fill="#fff" stroke="#8a8a8a" stroke-width="0.9"/><path d="M505.7 1.8v3.4h3.6" fill="#eee" stroke="#8a8a8a" stroke-width="0.9"/><path d="M501 5.5c-1 0 -1 1 -1 2v1c0 .6 -.5 .8 -.9 .8c.4 0 .9 .2 .9 .8v1c0 1 0 2 1 2" fill="none" stroke="#555" stroke-width="1"/><path d="M506.2 7.6h3.6v3.6h3.6v3.6h-3.6v3.6h-3.6v-3.6h-3.6v-3.6h3.6z" fill="url(#gGreen)" stroke="#0a8a0a" stroke-width="0.9"/></g>
<path d="M519.8 8h5.4l-2.7 3.2z" fill="#000"/>
<g><circle cx="543.8" cy="8.9" r="7.5" fill="url(#gClock)" stroke="#0c4cb0" stroke-width="0.6"/><circle cx="543.8" cy="8.9" r="5.1" fill="#fbfdff" stroke="#7fb0ea" stroke-width="0.6"/><path d="M543.6 4.9v4.2l2.6 .9" fill="none" stroke="#333" stroke-width="1.1"/><path d="M543.8 4.6v.6M543.8 12.6v.6M539.5 8.9h.6M547.5 8.9h.6" stroke="#999" stroke-width="0.6"/></g>
<path d="M558.8 8h5.4l-2.7 3.2z" fill="#000"/>
<g><rect x="575.3" y="2.3" width="15.4" height="13" fill="#fff" stroke="#2a67c8" stroke-width="1"/><rect x="575.3" y="2.3" width="15.4" height="2.2" fill="#4a8ae6"/><path d="M575.3 10h15.4" stroke="#4a86dc" stroke-width="0.9"/><path d="M577.3 8.4h1.8l1.8 -1.4l1.6 .6l1.6 -1.2l1.8 .8l2.2 -1" fill="none" stroke="#a0200c" stroke-width="1.3"/><path d="M577.8 13.6l2 -1l1.8 .6l2.6 -2l1.6 .6l1.8 1.8" fill="none" stroke="#1f8a2a" stroke-width="1.2"/></g>
<path d="M597.8 8h5.4l-2.7 3.2z" fill="#000"/>
<rect x="609" y="0" width="1" height="21" fill="#a0a0a0" shape-rendering="crispEdges"/><rect x="610" y="0" width="1" height="21" fill="#fafafa" shape-rendering="crispEdges"/>
<rect x="613" y="1" width="3" height="1" fill="#a8a8a8" shape-rendering="crispEdges"/>
<rect x="613" y="3" width="3" height="1" fill="#a8a8a8" shape-rendering="crispEdges"/>
<rect x="613" y="5" width="3" height="1" fill="#a8a8a8" shape-rendering="crispEdges"/>
<rect x="613" y="7" width="3" height="1" fill="#a8a8a8" shape-rendering="crispEdges"/>
<rect x="613" y="9" width="3" height="1" fill="#a8a8a8" shape-rendering="crispEdges"/>
<rect x="613" y="11" width="3" height="1" fill="#a8a8a8" shape-rendering="crispEdges"/>
<rect x="613" y="13" width="3" height="1" fill="#a8a8a8" shape-rendering="crispEdges"/>
<rect x="613" y="15" width="3" height="1" fill="#a8a8a8" shape-rendering="crispEdges"/>
<rect x="613" y="17" width="3" height="1" fill="#a8a8a8" shape-rendering="crispEdges"/>
<rect x="620" y="0" width="24" height="19" fill="url(#pSel)" shape-rendering="crispEdges"/>
<rect x="619" y="0" width="1" height="19" fill="#a0a0a0" shape-rendering="crispEdges"/>
<path d="M627 1.8 L627 13.4 L629.8 10.9 L632.2 16.2 L634.1 15.3 L631.7 10.2 L635.4 10.2 Z" fill="#3c3c3c"/>
<g stroke="#3c3c3c" stroke-width="1" shape-rendering="crispEdges"><path d="M652 9.5h6M661 9.5h6M659.5 2v6M659.5 11v6"/><rect x="659" y="9" width="1" height="1" fill="#3c3c3c" stroke="none"/></g>
<rect x="676" y="0" width="1" height="19" fill="#a0a0a0" shape-rendering="crispEdges"/><rect x="677" y="0" width="1" height="19" fill="#fafafa" shape-rendering="crispEdges"/>
<g stroke="#3c3c3c" stroke-width="1.1"><path d="M693.5 3v13" shape-rendering="crispEdges"/><path d="M716 9.5h12" shape-rendering="crispEdges"/><path d="M744 15.4L756 4.1"/></g>
<g stroke="#3c3c3c" fill="none"><path d="M769.6 10.6L777.9 3M774.9 15.7L784.2 7.1" stroke-width="0.8" stroke="#555"/><path d="M772 8.5v7M775.3 7v5.8M778.4 5v6.5M781.4 1.3v7M770.6 14.6l1.4 -1.2M772 10.2l3.3 1M775.3 8.4l3.1 1M778.4 6.4l3 .8M781.4 3.4l1.6 -.6M781.4 6.8l2 .8" stroke-width="1.2"/></g>
<text x="780.8" y="18" style="font-size:7px;font-weight:bold;fill:#333">E</text>
<g stroke="#3c3c3c" stroke-width="1" stroke-dasharray="1 1" shape-rendering="crispEdges"><path d="M799 2.5h13M799 5.5h13M799 9.5h13M799 13.5h9"/></g>
<text x="808.8" y="18" style="font-size:7px;font-weight:bold;fill:#333">F</text>
<text x="829.4" y="13.9" style="font-size:12.4px;fill:#464646;stroke:#464646;stroke-width:0.35px">A</text>
<rect x="856.5" y="3.5" width="11" height="12" fill="none" stroke="#3c3c3c" stroke-width="1" stroke-dasharray="1 1" shape-rendering="crispEdges"/>
<path d="M858 6.6h8M862 6.6v7.3" stroke="#464646" stroke-width="1.5" fill="none"/><rect x="855.5" y="2.5" width="2" height="1" fill="#3c3c3c"/>
<g fill="#464646"><path d="M886.5 2.9l3.5 3.3l-3.5 1.9l-3.5 -1.9z"/><path d="M893.6 10.9l3.5 1.7l-3.5 3.5l-3.5 -3.5z"/><path d="M885.2 10.9l2.4 1.9l4.2 -5.6" fill="none" stroke="#464646" stroke-width="1.2"/></g>
<path d="M903.6 8h5.4l-2.7 3.2z" fill="#000"/>
<rect x="915" y="0" width="1" height="21" fill="#a0a0a0" shape-rendering="crispEdges"/><rect x="916" y="0" width="1" height="21" fill="#fafafa" shape-rendering="crispEdges"/>
<rect x="919" y="1" width="3" height="1" fill="#a8a8a8" shape-rendering="crispEdges"/>
<rect x="919" y="3" width="3" height="1" fill="#a8a8a8" shape-rendering="crispEdges"/>
<rect x="919" y="5" width="3" height="1" fill="#a8a8a8" shape-rendering="crispEdges"/>
<rect x="919" y="7" width="3" height="1" fill="#a8a8a8" shape-rendering="crispEdges"/>
<rect x="919" y="9" width="3" height="1" fill="#a8a8a8" shape-rendering="crispEdges"/>
<rect x="919" y="11" width="3" height="1" fill="#a8a8a8" shape-rendering="crispEdges"/>
<rect x="919" y="13" width="3" height="1" fill="#a8a8a8" shape-rendering="crispEdges"/>
<rect x="919" y="15" width="3" height="1" fill="#a8a8a8" shape-rendering="crispEdges"/>
<rect x="919" y="17" width="3" height="1" fill="#a8a8a8" shape-rendering="crispEdges"/>
<rect x="1066" y="0" width="24" height="19" fill="url(#pSel)" shape-rendering="crispEdges"/>
<rect x="1065" y="0" width="1" height="19" fill="#a0a0a0" shape-rendering="crispEdges"/>
<text class="tf" x="936.6" y="13" text-anchor="middle">M1</text>
<text class="tf" x="964.8" y="13" text-anchor="middle">M5</text>
<text class="tf" x="993.3" y="13" text-anchor="middle">M15</text>
<text class="tf" x="1021.4" y="13" text-anchor="middle">M30</text>
<text class="tf" x="1049.4" y="13" text-anchor="middle">H1</text>
<text class="tf" x="1076.7" y="13" text-anchor="middle">H4</text>
<text class="tf" x="1105.5" y="13" text-anchor="middle">D1</text>
<text class="tf" x="1134" y="13" text-anchor="middle">W1</text>
<text class="tf" x="1160.9" y="13" text-anchor="middle">MN</text>
<rect x="1176" y="0" width="1" height="21" fill="#a0a0a0" shape-rendering="crispEdges"/><rect x="1177" y="0" width="1" height="21" fill="#fafafa" shape-rendering="crispEdges"/>
<g><path d="M1643.2 10 L1639.2 13.8" stroke="#2a5fd0" stroke-width="2.4" stroke-linecap="round"/><circle cx="1646.8" cy="6.4" r="3.9" fill="#f4f7ff" stroke="#2a5fd0" stroke-width="1.3"/></g>
<g><path d="M1663.5 11 a5 4.2 0 1 1 6 4 l-2.6 .2 l-.6 2.4 l-1 -2.6 a4.6 4 0 0 1 -1.8 -4z" fill="#e6e8f0" stroke="#b0b4bc" stroke-width="0.7"/><circle cx="1677.5" cy="7.1" r="8" fill="url(#gRed)"/><text x="1677.5" y="11.4" text-anchor="middle" style="font-size:12.5px;font-weight:bold;fill:#fff;font-family:'Liberation Mono',monospace">1</text></g>
</svg></body></html>
